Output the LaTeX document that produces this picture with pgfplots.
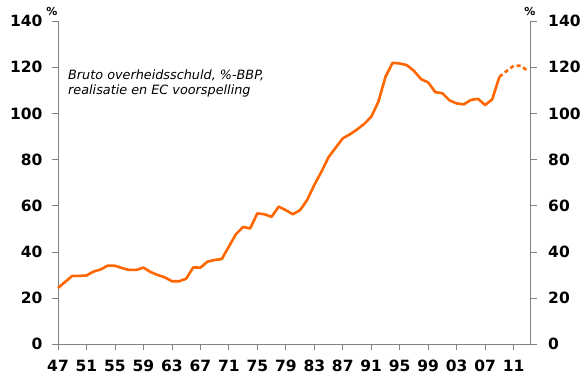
\documentclass[border=0pt]{standalone}
\usepackage{fontspec}
\setmainfont{DejaVu Sans}
\usepackage{pgfplots}
\pgfplotsset{compat=1.18}
\definecolor{lineorange}{RGB}{255,102,0}
\definecolor{axgray}{RGB}{128,128,128}
\begin{document}
\begin{tikzpicture}
\path[use as bounding box] (-58pt,-37.7pt) rectangle (526pt,344.3pt);
\pgfplotsset{
  common/.style={
    at={(0,0)}, anchor=south west,
    scale only axis, width=472.7pt, height=323.3pt,
    xmin=1947, xmax=2013.4, ymin=0, ymax=140,
    axis line style={axgray, line width=0.8pt},
    ytick={0,20,...,140},
    yticklabels={0,20,40,60,80,100,120,140},
    tick align=outside, major tick length=6pt,
    tick style={axgray, line width=0.8pt},
    ticklabel style={font=\bfseries\fontsize{15.5}{17}\selectfont, text=black},
    clip=false,
  }
}
\begin{axis}[common,
  axis x line*=bottom, axis y line*=left,
  xtick={1947,1951,...,2011},
  xticklabels={47,51,55,59,63,67,71,75,79,83,87,91,95,99,03,07,11},
  xticklabel style={yshift=-6pt},
  yticklabel style={xshift=-6pt},
]
\addplot[lineorange, line width=2.6pt, line join=round] coordinates {
(1947,24.4) (1948,27.0) (1949,29.6) (1950,29.6) (1951,29.8) (1952,31.5)
(1953,32.4) (1954,34.1) (1955,34.0) (1956,33.0) (1957,32.2) (1958,32.2)
(1959,33.2) (1960,31.3) (1961,30.0) (1962,29.0) (1963,27.3) (1964,27.3)
(1965,28.4) (1966,33.3) (1967,33.2) (1968,35.8) (1969,36.5) (1970,36.9)
(1971,42.3) (1972,47.7) (1973,50.8) (1974,50.2) (1975,56.7) (1976,56.3)
(1977,55.2) (1978,59.6) (1979,58.1) (1980,56.3) (1981,58.1) (1982,62.5)
(1983,69.0) (1984,74.7) (1985,81.0) (1986,85.1) (1987,89.2) (1988,90.9)
(1989,93.0) (1990,95.4) (1991,98.5) (1992,105.0) (1993,115.8) (1994,121.9)
(1995,121.6) (1996,120.9) (1997,118.4) (1998,114.8) (1999,113.4) (2000,109.2)
(2001,108.7) (2002,105.6) (2003,104.3) (2004,103.9) (2005,105.8) (2006,106.3)
(2007,103.6) (2008,106.1) (2009,115.8)
};
\addplot[lineorange, line width=2.6pt, dash pattern=on 4pt off 3pt] coordinates {
(2009,115.8) (2010,118.3) (2011,120.6) (2012,120.6) (2013,118.4)
};
\end{axis}
\begin{axis}[common,
  axis x line=none, axis y line*=right,
  yticklabel style={xshift=8pt},
]
\end{axis}
\node[font=\bfseries\fontsize{11}{12}\selectfont] at (-6pt,332.3pt) {\%};
\node[font=\bfseries\fontsize{11}{12}\selectfont] at (472pt,332.3pt) {\%};
\node[anchor=base west, inner sep=0pt, font=\itshape\fontsize{12.8}{15}\selectfont] at (10pt,264.3pt) {Bruto overheidsschuld, \%-BBP,};
\node[anchor=base west, inner sep=0pt, font=\itshape\fontsize{12.8}{15}\selectfont] at (10pt,249.3pt) {realisatie en EC voorspelling};
\end{tikzpicture}
\end{document}
